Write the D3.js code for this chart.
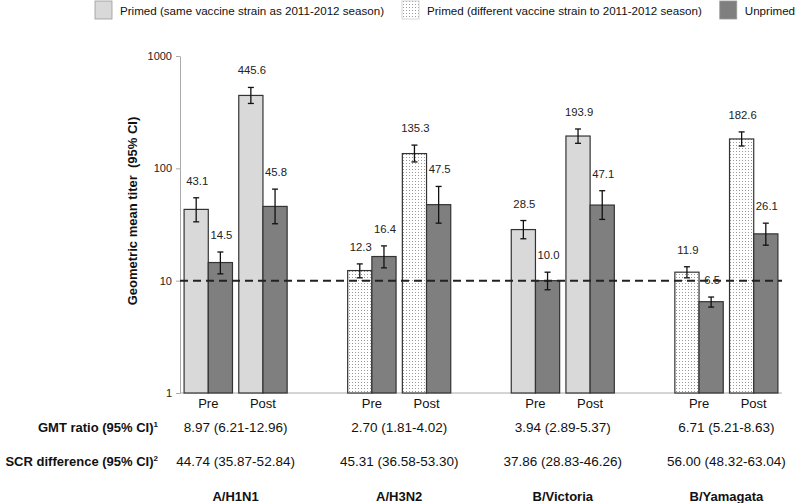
<!DOCTYPE html>
<html><head><meta charset="utf-8">
<script src="https://cdn.jsdelivr.net/npm/d3@7"></script>
<style>body{margin:0;background:#fff}svg{display:block;font-family:"Liberation Sans",Arial,sans-serif}</style>
</head><body><svg id="c" width="800" height="503"></svg>
<script>
const strains = ["A/H1N1","A/H3N2","B/Victoria","B/Yamagata"];
const timepoints = ["Pre","Post"];
// primed type for each strain: "same" or "diff"
const primedType = ["same","diff","same","diff"];
// values [strain][timepoint]
const primedGMT = [[43.1,445.6],[12.3,135.3],[28.5,193.9],[11.9,182.6]];
const primedLow = [[33.4,378],[10.6,114],[23.6,167],[10.6,158]];
const primedHigh = [[54.7,525],[14.1,161],[34.3,224],[13.3,211]];
const unprimedGMT = [[14.5,45.8],[16.4,47.5],[10.0,47.1],[6.5,26.1]];
const unprimedLow = [[11.5,32.1],[13.0,32.5],[8.3,35.1],[5.82,20.7]];
const unprimedHigh = [[18.0,65.3],[20.4,69.0],[11.9,63.2],[7.15,32.5]];
const gmtRatio = ["8.97 (6.21-12.96)","2.70 (1.81-4.02)","3.94 (2.89-5.37)","6.71 (5.21-8.63)"];
const scrDiff = ["44.74 (35.87-52.84)","45.31 (36.58-53.30)","37.86 (28.83-46.26)","56.00 (48.32-63.04)"];
const yTicks = [1,10,100,1000];
const legendLabels = ["Primed (same vaccine strain as 2011-2012 season)","Primed (different vaccine strain to 2011-2012 season)","Unprimed"];

const svg = d3.select("#c");
const defs = svg.append("defs");
const pat = defs.append("pattern").attr("id","dots").attr("patternUnits","userSpaceOnUse").attr("width",3).attr("height",3);
pat.append("rect").attr("width",3).attr("height",3).attr("fill","#fff");
pat.append("rect").attr("x",1).attr("y",1).attr("width",1).attr("height",1).attr("fill","#999");

const fills = {same:"#d9d9d9", diff:"url(#dots)", un:"#7f7f7f"};

const x0 = d3.scaleBand().domain(strains).range([180,782]).paddingInner(0.37).paddingOuter(0.025);
const x1 = d3.scaleBand().domain(timepoints).range([0,x0.bandwidth()]).paddingInner(0.115);
const x2 = d3.scaleBand().domain(["primed","unprimed"]).range([0,x1.bandwidth()]);
const y = d3.scaleLog().domain([1,1000]).range([393,56]);

// y axis
const yAxis = svg.append("g").attr("transform","translate(180,0)")
  .call(d3.axisLeft(y).tickValues(yTicks).tickFormat(d3.format("d")).tickSize(4).tickSizeOuter(0));
yAxis.select(".domain").attr("stroke","#aaa");
yAxis.selectAll(".tick line").attr("stroke","#aaa");
yAxis.selectAll(".tick text").attr("font-size",11).attr("fill","#222").attr("font-family","Liberation Sans, Arial, sans-serif").attr("x",-8);

// baseline
svg.append("line").attr("x1",180).attr("x2",782).attr("y1",y(1)).attr("y2",y(1)).attr("stroke","#aaa");

// bars
const rows = [];
strains.forEach((s,i)=>timepoints.forEach((t,j)=>{
  rows.push({s,t,k:"primed",v:primedGMT[i][j],lo:primedLow[i][j],hi:primedHigh[i][j],fill:fills[primedType[i]]});
  rows.push({s,t,k:"unprimed",v:unprimedGMT[i][j],lo:unprimedLow[i][j],hi:unprimedHigh[i][j],fill:fills.un});
}));
const bx = d=>x0(d.s)+x1(d.t)+x2(d.k);
const bw = x2.bandwidth();
svg.append("g").selectAll("rect").data(rows).join("rect")
  .attr("x",bx).attr("y",d=>y(d.v)).attr("width",bw).attr("height",d=>y(1)-y(d.v))
  .attr("fill",d=>d.fill).attr("stroke","#333").attr("stroke-width",1.2);

// dashed reference line at 10
svg.append("line").attr("x1",180).attr("x2",782).attr("y1",y(10)).attr("y2",y(10))
  .attr("stroke","#222").attr("stroke-width",2).attr("stroke-dasharray","8,5");

// error bars
const eb = svg.append("g").attr("stroke","#111").attr("stroke-width",1.3);
rows.forEach(d=>{
  const cx = bx(d)+bw/2;
  eb.append("line").attr("x1",cx).attr("x2",cx).attr("y1",y(d.lo)).attr("y2",y(d.hi));
  eb.append("line").attr("x1",cx-3).attr("x2",cx+3).attr("y1",y(d.lo)).attr("y2",y(d.lo));
  eb.append("line").attr("x1",cx-3).attr("x2",cx+3).attr("y1",y(d.hi)).attr("y2",y(d.hi));
});

// value labels
svg.append("g").selectAll("text").data(rows).join("text")
  .attr("x",d=>bx(d)+bw/2+1).attr("y",d=>y(d.hi)-13).attr("text-anchor","middle")
  .attr("font-size",11.3).attr("fill","#222").text(d=>d.v.toFixed(1));

// Pre/Post labels
strains.forEach(s=>timepoints.forEach(t=>{
  svg.append("text").attr("x",x0(s)+x1(t)+x1.bandwidth()/2).attr("y",408)
    .attr("text-anchor","middle").attr("font-size",13).attr("fill","#111").text(t);
}));

// table rows
const cx0 = s=>x0(s)+x0.bandwidth()/2;
svg.append("g").selectAll("text").data(strains).join("text")
  .attr("x",cx0).attr("y",432).attr("text-anchor","middle").attr("font-size",13.5).attr("fill","#111")
  .text((d,i)=>gmtRatio[i]);
svg.append("g").selectAll("text").data(strains).join("text")
  .attr("x",cx0).attr("y",466).attr("text-anchor","middle").attr("font-size",13.5).attr("fill","#111")
  .text((d,i)=>scrDiff[i]);
svg.append("g").selectAll("text").data(strains).join("text")
  .attr("x",cx0).attr("y",501).attr("text-anchor","middle").attr("font-size",13).attr("font-weight","bold").attr("fill","#111")
  .text(d=>d);

const l1 = svg.append("text").attr("x",158).attr("y",432).attr("text-anchor","end").attr("font-size",13).attr("font-weight","bold").attr("fill","#111");
l1.append("tspan").text("GMT ratio (95% CI)");
l1.append("tspan").attr("font-size",8).attr("dy",-5).text("1");
const l2 = svg.append("text").attr("x",158).attr("y",466).attr("text-anchor","end").attr("font-size",13).attr("font-weight","bold").attr("fill","#111");
l2.append("tspan").text("SCR difference (95% CI)");
l2.append("tspan").attr("font-size",8).attr("dy",-5).text("2");

// y title
svg.append("text").attr("transform","translate(137,211) rotate(-90)").attr("text-anchor","middle")
  .attr("font-size",13).attr("font-weight","bold").attr("fill","#111").attr("xml:space","preserve")
  .text("Geometric mean titer  (95% CI)");

// legend
const lg = svg.append("g");
const legFills = [fills.same, fills.diff, fills.un];
let lx = 95;
legendLabels.forEach((lab,i)=>{
  lg.append("rect").attr("x",lx).attr("y",1).attr("width",17).attr("height",18)
    .attr("fill",legFills[i]).attr("stroke",i===1?"#ccc":"#999").attr("stroke-width",0.8);
  const t = lg.append("text").attr("x",lx+25).attr("y",15).attr("font-size",11.6).attr("fill","#111").text(lab);
  lx = lx + 25 + t.node().getComputedTextLength() + 18;
});
</script></body></html>
